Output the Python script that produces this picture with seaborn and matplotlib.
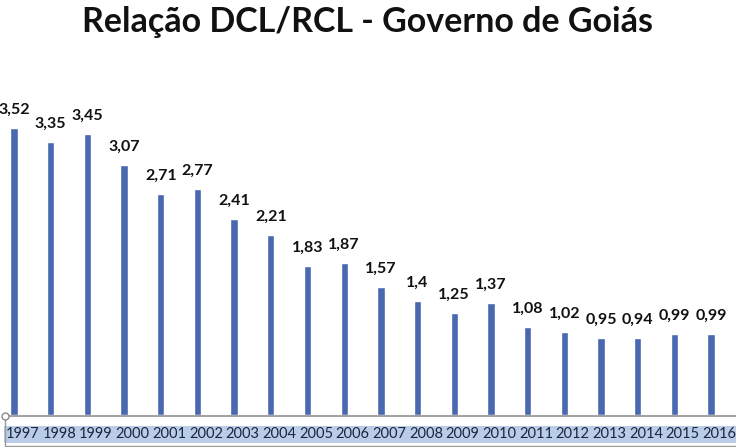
import matplotlib
matplotlib.use("Agg")
import matplotlib.pyplot as plt
import matplotlib.transforms as mtransforms
from matplotlib.lines import Line2D
import seaborn as sns
import pandas as pd

years = ["1997", "1998", "1999", "2000", "2001", "2002", "2003", "2004", "2005", "2006",
         "2007", "2008", "2009", "2010", "2011", "2012", "2013", "2014", "2015", "2016"]
values = [3.52, 3.35, 3.45, 3.07, 2.71, 2.77, 2.41, 2.21, 1.83, 1.87,
          1.57, 1.40, 1.25, 1.37, 1.08, 1.02, 0.95, 0.94, 0.99, 0.99]
value_labels = ["3,52", "3,35", "3,45", "3,07", "2,71", "2,77", "2,41", "2,21", "1,83", "1,87",
                "1,57", "1,4", "1,25", "1,37", "1,08", "1,02", "0,95", "0,94", "0,99", "0,99"]
title = "Relação DCL/RCL - Governo de Goiás"

df = pd.DataFrame({"ano": years, "valor": values})

sns.set_theme(style="white")
plt.rcParams["font.family"] = ["Lato", "DejaVu Sans"]

fig = plt.figure(figsize=(7.36, 4.47), dpi=100)
ax = fig.add_axes([0, 32 / 447, 1, 315 / 447])

sns.barplot(data=df, x="ano", y="valor", order=years, color="#4a68b0",
            saturation=1, width=0.2, ax=ax)

ax.set_xlim(-0.382, 19.68)
ax.set_ylim(0, 3.865)
for s in ["top", "right", "left", "bottom"]:
    ax.spines[s].set_visible(False)
ax.set_yticks([])
ax.set_xlabel("")
ax.set_ylabel("")

for i, (v, lab) in enumerate(zip(values, value_labels)):
    ax.annotate(lab, (i, v), xytext=(0, 8), textcoords="offset points",
                ha="center", va="bottom", fontsize=11.5, fontweight="bold", color="#111111")

ax.tick_params(axis="x", length=0, pad=9)
ax.set_xticks(range(len(years)))
ax.set_xticklabels(years, fontsize=10.5, color="#1c2540")
shift = mtransforms.ScaledTranslation(8.5 / 100, 0, fig.dpi_scale_trans)
for t in ax.get_xticklabels():
    t.set_bbox(dict(facecolor="#b9cde8", edgecolor="none", pad=1.2))
    t.set_transform(t.get_transform() + shift)

# baseline and frame edge
W, H = 736.0, 447.0
fig.add_artist(Line2D([5 / W, 1], [1 - 416 / H, 1 - 416 / H], color="#9a9a9a", lw=1.3))
fig.add_artist(Line2D([5 / W, 5 / W], [1 - 416 / H, 0], color="#9a9a9a", lw=1.0))
fig.add_artist(Line2D([5 / W, 1], [1 - 446 / H, 1 - 446 / H], color="#9a9a9a", lw=1.0))
fig.add_artist(Line2D([5 / W], [1 - 416 / H], marker="o", markersize=5,
                      markerfacecolor="white", markeredgecolor="#8a8a8a", lw=0))

fig.text(0.5, 1 - 22 / 447, title, ha="center", va="center",
         fontsize=24.5, fontweight="bold", color="#111111")

fig.savefig("out.png", dpi=100)
